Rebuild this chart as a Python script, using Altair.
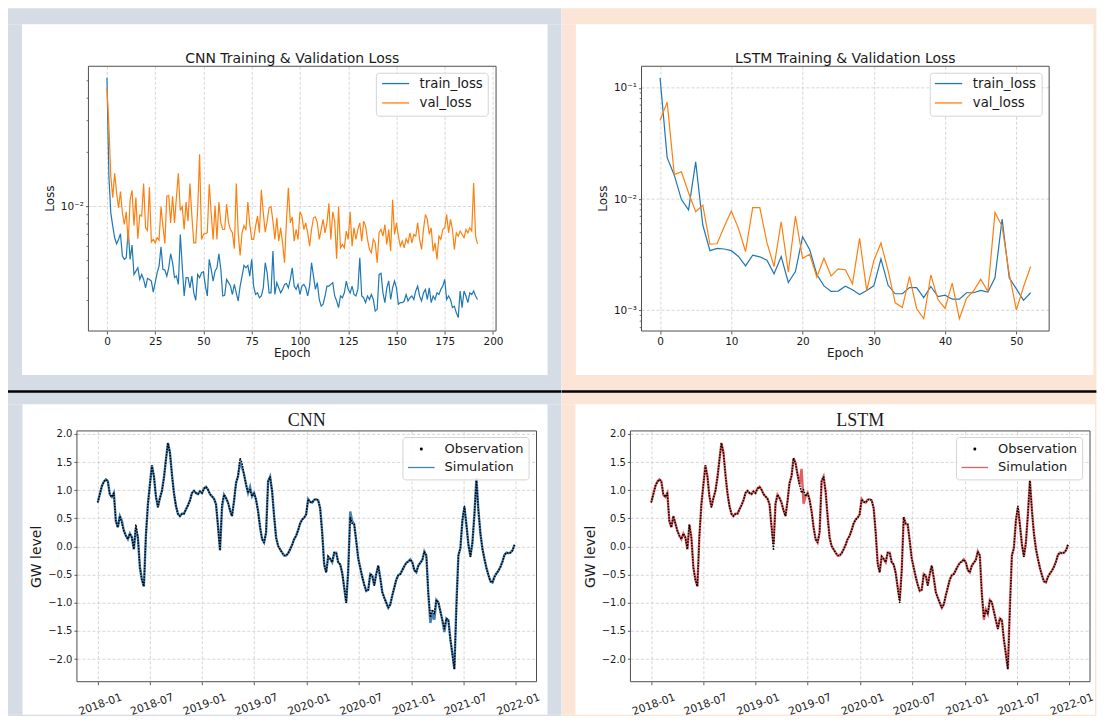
import altair as alt
import pandas as pd

# ---------------- data ----------------
cnn_train_loss = [
    0.0519, 0.0147, 0.00922, 0.00778, 0.0067, 0.0062, 0.00656, 0.00705, 0.0053, 0.00508,
    0.00519, 0.00739, 0.00508, 0.0061, 0.00419, 0.00437, 0.00456, 0.00393, 0.00419, 0.00393,
    0.00353, 0.00398, 0.00393, 0.00385, 0.00334, 0.00377, 0.00428, 0.00466, 0.00597, 0.00447,
    0.00443, 0.0041, 0.00456, 0.00546, 0.00487, 0.00402, 0.0041, 0.00369, 0.00699, 0.00466,
    0.00318, 0.00402, 0.00402, 0.00353, 0.0041, 0.00331, 0.00301, 0.00419, 0.00402, 0.00428,
    0.00434, 0.00361, 0.00318, 0.00508, 0.00447, 0.00385, 0.00437, 0.00456, 0.00546, 0.00447,
    0.00318, 0.00321, 0.00393, 0.00377, 0.00361, 0.00324, 0.00369, 0.00331, 0.00298, 0.00361,
    0.0041, 0.0047, 0.00456, 0.0047, 0.0041, 0.00508, 0.00361, 0.00324, 0.00331, 0.00311,
    0.00318, 0.00353, 0.00487, 0.00428, 0.00331, 0.00331, 0.00565, 0.00324, 0.00377, 0.00353,
    0.00331, 0.00346, 0.00369, 0.00373, 0.00353, 0.00393, 0.00456, 0.00361, 0.00346, 0.00369,
    0.00324, 0.00361, 0.00369, 0.00353, 0.00318, 0.00361, 0.00487, 0.0041, 0.00346, 0.00377,
    0.00304, 0.00279, 0.00286, 0.00318, 0.00361, 0.00361, 0.00369, 0.00377, 0.00318, 0.00298,
    0.00274, 0.00318, 0.00311, 0.00331, 0.00385, 0.00346, 0.00331, 0.00361, 0.00324, 0.00318,
    0.00346, 0.00519, 0.00318, 0.00311, 0.00292, 0.00318, 0.00304, 0.00324, 0.00304, 0.00262,
    0.00268, 0.00419, 0.00425, 0.00331, 0.00292, 0.00353, 0.00385, 0.00304, 0.00353, 0.00385,
    0.00353, 0.00286, 0.00292, 0.00292, 0.00298, 0.00324, 0.00298, 0.00311, 0.00318, 0.00304,
    0.00339, 0.00361, 0.00318, 0.00298, 0.00331, 0.00346, 0.00304, 0.00353, 0.00292, 0.00318,
    0.00304, 0.00331, 0.00324, 0.00346, 0.00361, 0.00393, 0.00304, 0.00318, 0.00304, 0.00274,
    0.00279, 0.00257, 0.00241, 0.00339, 0.00274, 0.00339, 0.00318, 0.00292, 0.00331, 0.00324,
    0.00339, 0.00318, 0.00304,
]
cnn_val_loss = [
    0.0456, 0.0280, 0.0147, 0.0112, 0.0153, 0.0119, 0.00983, 0.0121, 0.00922, 0.00794,
    0.00934, 0.00628, 0.0109, 0.0123, 0.00784, 0.0112, 0.00661, 0.00896, 0.00884, 0.0134,
    0.00761, 0.00736, 0.0128, 0.00634, 0.00656, 0.00628, 0.0067, 0.0065, 0.0100, 0.00778,
    0.00623, 0.0114, 0.0115, 0.00811, 0.0114, 0.00811, 0.0113, 0.0153, 0.0095, 0.0100,
    0.00745, 0.0106, 0.00829, 0.0134, 0.00884, 0.00628, 0.00628, 0.00962, 0.0195, 0.00656,
    0.00699, 0.00708, 0.00714, 0.0133, 0.00922, 0.00656, 0.0101, 0.00656, 0.0106, 0.00811,
    0.00745, 0.00745, 0.0103, 0.00811, 0.00745, 0.00714, 0.00582, 0.0134, 0.00714, 0.00535,
    0.00714, 0.00784, 0.00739, 0.0106, 0.00794, 0.00656, 0.00656, 0.00778, 0.00884, 0.00714,
    0.0124, 0.00922, 0.0072, 0.00829, 0.00983, 0.00996, 0.00829, 0.00656, 0.00865, 0.00642,
    0.00761, 0.00628, 0.00487, 0.00829, 0.0127, 0.00811, 0.00876, 0.00642, 0.00745, 0.00656,
    0.00934, 0.00884, 0.00745, 0.00811, 0.00714, 0.00602, 0.00745, 0.00865, 0.00876, 0.00811,
    0.00656, 0.00745, 0.00847, 0.00714, 0.00811, 0.0104, 0.00656, 0.00934, 0.00829, 0.00512,
    0.0100, 0.00589, 0.00615, 0.00589, 0.0073, 0.00656, 0.00934, 0.00602, 0.00761, 0.00656,
    0.00745, 0.00811, 0.00642, 0.00829, 0.00778, 0.00656, 0.00577, 0.00553, 0.00656, 0.00628,
    0.00487, 0.00714, 0.00745, 0.00684, 0.00794, 0.00615, 0.00745, 0.00565, 0.0109, 0.00699,
    0.00811, 0.00684, 0.00602, 0.00642, 0.00589, 0.00661, 0.00628, 0.00714, 0.00628, 0.00699,
    0.00684, 0.00811, 0.00656, 0.00577, 0.00745, 0.00903, 0.00847, 0.00699, 0.00761, 0.00565,
    0.00628, 0.00508, 0.00684, 0.00656, 0.00745, 0.00761, 0.00903, 0.00714, 0.00847, 0.00745,
    0.00577, 0.00714, 0.00684, 0.0073, 0.00699, 0.0067, 0.00745, 0.00714, 0.00761, 0.0073,
    0.0135, 0.00684, 0.0062,
]
lstm_train_loss = [
    0.123, 0.0236, 0.0164, 0.0099, 0.0080, 0.0216, 0.00585, 0.00344, 0.00361, 0.00356,
    0.00344, 0.00305, 0.00251, 0.00313, 0.00303, 0.00283, 0.00213, 0.00305, 0.00178, 0.00223,
    0.0046, 0.0035, 0.0021, 0.00166, 0.00148, 0.00149, 0.00165, 0.00153, 0.00139, 0.00151,
    0.00166, 0.0029, 0.00168, 0.00141, 0.00141, 0.0016, 0.0016, 0.0013, 0.00164, 0.00133,
    0.00137, 0.00126, 0.00126, 0.00144, 0.00144, 0.00151, 0.00146, 0.00196, 0.00662, 0.00196,
    0.00156, 0.00123, 0.00144,
]
lstm_val_loss = [
    0.0509, 0.0744, 0.0166, 0.0176, 0.0114, 0.0077, 0.0088, 0.00393, 0.00397, 0.00565,
    0.0078, 0.00546, 0.00338, 0.0084, 0.0084, 0.00406, 0.00248, 0.00626, 0.0022, 0.00705,
    0.00294, 0.00319, 0.00199, 0.00294, 0.00204, 0.00236, 0.00232, 0.00173, 0.00444, 0.00151,
    0.0028, 0.00403, 0.00228, 0.00117, 0.00106, 0.00201, 0.00104, 0.00084, 0.00208, 0.00125,
    0.00104, 0.00176, 0.00084, 0.00128, 0.0015, 0.00191, 0.00148, 0.0076, 0.00569, 0.00213,
    0.00101, 0.00162, 0.00248,
]

gw_start = "2018-01-01"
gw_step = "7D"
gw_observation = [
    0.79, 0.93, 1.07, 1.15, 1.19, 1.16, 0.92, 0.88, 0.95, 0.45,
    0.34, 0.54, 0.41, 0.28, 0.19, 0.13, 0.23, 0.16, -0.05, 0.39,
    0.16, -0.37, -0.59, -0.71, 0.19, 0.75, 1.10, 1.44, 1.25, 0.89,
    0.70, 0.86, 0.99, 1.22, 1.54, 1.84, 1.67, 1.28, 0.95, 0.72,
    0.58, 0.54, 0.58, 0.58, 0.66, 0.73, 0.82, 0.95, 0.99, 0.95,
    0.93, 0.98, 0.95, 1.03, 1.06, 1.01, 0.93, 0.89, 0.85, 0.75,
    0.36, -0.07, 0.76, 0.92, 0.86, 0.78, 0.64, 0.54, 0.81, 1.13,
    1.25, 1.57, 1.48, 1.28, 1.10, 0.95, 1.01, 0.89, 0.95, 0.83,
    0.63, 0.34, 0.13, 0.07, 0.25, 1.16, 1.24, 0.98, 0.54, 0.16,
    0.01, -0.05, -0.11, -0.16, -0.16, -0.12, -0.05, 0.03, 0.13, 0.19,
    0.29, 0.41, 0.48, 0.51, 0.57, 0.84, 0.79, 0.78, 0.83, 0.84,
    0.82, 0.68, 0.25, -0.32, -0.46, -0.18, -0.22, -0.28, -0.11, -0.11,
    -0.28, -0.32, -0.47, -0.73, -1.00, -0.43, 0.52, 0.40, 0.39, 0.10,
    -0.21, -0.38, -0.54, -0.68, -0.79, -0.77, -0.49, -0.52, -0.69, -0.49,
    -0.34, -0.56, -0.81, -0.91, -1.00, -1.09, -1.03, -0.87, -0.73, -0.59,
    -0.51, -0.49, -0.42, -0.35, -0.29, -0.27, -0.23, -0.28, -0.42, -0.46,
    -0.34, -0.29, -0.24, -0.09, -0.16, -0.84, -1.26, -1.12, -1.20, -0.95,
    -0.99, -1.15, -1.31, -1.46, -1.28, -1.31, -1.65, -1.91, -2.18, -1.13,
    -0.16, -0.03, 0.46, 0.72, 0.39, 0.04, -0.18, 0.07, 0.57, 1.17,
    0.64, 0.23, -0.04, -0.22, -0.38, -0.51, -0.62, -0.64, -0.54, -0.48,
    -0.43, -0.36, -0.27, -0.15, -0.11, -0.12, -0.11, -0.07, 0.03,
]
# weeks where the simulated curve visibly departs from the observations
cnn_sim_departures = {12: 0.46, 19: 0.33, 62: 0.68, 71: 1.50, 72: 1.40, 76: 1.06,
                      126: 0.62, 127: 0.45, 166: -1.36, 167: -1.20, 168: -1.30,
                      173: -1.52, 179: -1.02, 183: 0.70, 189: 1.22}
lstm_sim_departures = {61: 0.04, 75: 1.38, 76: 0.76, 113: -0.28, 124: -0.95,
                       166: -1.30, 179: -1.05, 183: 0.69}

cnn_epoch_ticks = [0, 25, 50, 75, 100, 125, 150, 175, 200]
lstm_epoch_ticks = [0, 10, 20, 30, 40, 50]
cnn_loss_ticks = [0.01]
lstm_loss_ticks = [0.001, 0.01, 0.1]
cnn_loss_minor = [0.003, 0.004, 0.005, 0.006, 0.007, 0.008, 0.009, 0.02, 0.03, 0.04, 0.05]
lstm_loss_minor = [0.0007, 0.0008, 0.0009, 0.002, 0.003, 0.004, 0.005, 0.006, 0.007,
                   0.008, 0.009, 0.02, 0.03, 0.04, 0.05, 0.06, 0.07, 0.08, 0.09]
gw_level_ticks = [-2.0, -1.5, -1.0, -0.5, 0.0, 0.5, 1.0, 1.5, 2.0]
date_ticks = ["2018-01-01", "2018-07-01", "2019-01-01", "2019-07-01", "2020-01-01",
              "2020-07-01", "2021-01-01", "2021-07-01", "2022-01-01"]

# ---------------- styling ----------------
FONT = "DejaVu Sans"
SERIF = "Liberation Serif"
TXT = "#1a1a1a"
GRID = "#cccccc"
BLUE = "#1f77b4"
ORANGE = "#ff7f0e"
GRAYBG = "#D6DCE5"
PEACH = "#FBE5D6"
ONE = pd.DataFrame({"k": [0]})

LOGEXPR = ("round(log(datum.value)/LN10) == -1 ? '10\u207b\u00b9' : "
           "round(log(datum.value)/LN10) == -2 ? '10\u207b\u00b2' : '10\u207b\u00b3'")

AX = dict(gridColor=GRID, gridDash=[3, 2], gridWidth=0.8,
          domain=False, tickSize=3, tickWidth=0.8, tickColor="#333333",
          labelColor=TXT, labelFont=FONT, titleFont=FONT, titleColor=TXT,
          titleFontWeight="normal", labelFlush=False, labelOverlap=False)


def rect(x1, x2, y1, y2, **mk):
    return alt.Chart(ONE).mark_rect(**mk).encode(
        x=alt.value(x1), x2=alt.value(x2), y=alt.value(y1), y2=alt.value(y2))


def hline(x1, x2, y, color, width):
    return alt.Chart(ONE).mark_rule(color=color, strokeWidth=width).encode(
        x=alt.value(x1), x2=alt.value(x2), y=alt.value(y))


def label(x, y, text, **mk):
    return alt.Chart(ONE).mark_text(text=text, **mk).encode(x=alt.value(x), y=alt.value(y))


def surround(bg, bgb, wb):
    """coloured border around the white panel (the white comes from the chart background)"""
    bx1, bx2, by1, by2 = bgb
    wx1, wx2, wy1, wy2 = wb
    return [
        rect(bx1, bx2, by1, wy1, fill=bg),
        rect(bx1, bx2, wy2, by2, fill=bg),
        rect(bx1, wx1, wy1, wy2, fill=bg),
        rect(wx2, bx2, wy1, wy2, fill=bg),
    ]


def loss_panel(train, val, domx, domy, xticks, yticks, minor, title, bg, bgb, wb, s, leg):
    # the plot box starts s px right of the view origin so that panels in one
    # column share their origin
    W, H = 408, 265
    xs = alt.Scale(domain=domx, range=[s, s + W], nice=False, zero=False)
    ys = alt.Scale(type="log", domain=domy, nice=False)
    tr = pd.DataFrame({"epoch": list(range(len(train))), "loss": train})
    va = pd.DataFrame({"epoch": list(range(len(val))), "loss": val})
    mn = pd.DataFrame({"m": minor})
    yg = pd.DataFrame({"g": yticks})
    xax = alt.Axis(values=xticks, title=None, format="d", labelFontSize=10.5, grid=True,
                   labelPadding=2, **AX)
    yax = alt.Axis(values=yticks, title=None, labelExpr=LOGEXPR, labelFontSize=10.5,
                   grid=False, labelPadding=2, offset=-s, **AX)
    lx1, lx2, ly1, ly2, sx1, sx2, tx = leg
    layers = surround(bg, bgb, wb) + [
        alt.Chart(yg).mark_rule(color=GRID, strokeWidth=0.8, strokeDash=[3, 2]).encode(
            y=alt.Y("g:Q", scale=ys, axis=yax), x=alt.value(s), x2=alt.value(s + W)),
        alt.Chart(tr).mark_line(color=BLUE, strokeWidth=1.2).encode(
            x=alt.X("epoch:Q", scale=xs, axis=xax), y=alt.Y("loss:Q", scale=ys, axis=yax)),
        alt.Chart(va).mark_line(color=ORANGE, strokeWidth=1.2).encode(
            x=alt.X("epoch:Q", scale=xs, axis=xax), y=alt.Y("loss:Q", scale=ys, axis=yax)),
        alt.Chart(mn).mark_rule(color="#333333", strokeWidth=0.7).encode(
            y=alt.Y("m:Q", scale=ys, axis=yax), x=alt.value(s - 1.8), x2=alt.value(s)),
        rect(s, s + W, 0, H, fill="white", fillOpacity=0, stroke="#4d4d4d", strokeWidth=1),
        rect(s + lx1, s + lx2, ly1, ly2, fill="white", fillOpacity=0.85, stroke="#d4d4d4",
             strokeWidth=1, cornerRadius=3),
        hline(s + sx1, s + sx2, 17.3, BLUE, 1.3),
        hline(s + sx1, s + sx2, 36.7, ORANGE, 1.3),
        label(s + tx, 17.3, "train_loss", font=FONT, fontSize=13.3, color=TXT,
              align="left", baseline="middle"),
        label(s + tx, 36.7, "val_loss", font=FONT, fontSize=13.3, color=TXT,
              align="left", baseline="middle"),
        label(s + W / 2, -3.6, title, font=FONT, fontSize=14, color=TXT,
              align="center", baseline="alphabetic"),
        label(s + W / 2, 287, "Epoch", font=FONT, fontSize=12, color=TXT,
              align="center", baseline="middle"),
        label(-27, H / 2, "Loss", font=FONT, fontSize=12, color=TXT, angle=270,
              align="center", baseline="middle"),
    ]
    return alt.layer(*layers).properties(width=W + s, height=H)


def gw_panel(obs, departures, sim_color, title, bg, bgb, wb):
    W, H = 460, 251
    dates = pd.date_range(gw_start, periods=len(obs), freq=gw_step)
    sim = list(obs)
    for i, v in departures.items():
        if i < len(sim):
            sim[i] = v
    dfo = pd.DataFrame({"date": dates, "level": obs})
    dfs = pd.DataFrame({"date": dates, "level": sim})
    xs = alt.Scale(domain=[alt.DateTime(year=2017, month=10, date=20),
                           alt.DateTime(year=2022, month=3, date=14)], nice=False)
    ys = alt.Scale(domain=[-2.4025, 2.0525], nice=False, zero=False)
    tvals = [pd.Timestamp(d) for d in date_ticks]
    xax = alt.Axis(values=[alt.DateTime(year=t.year, month=t.month, date=t.day) for t in tvals],
                   format="%Y-%m", labelAngle=340, labelAlign="center", labelBaseline="top",
                   labelPadding=14, labelFontSize=10.8, title=None, grid=True, **AX)
    yax = alt.Axis(values=gw_level_ticks, format=".1f", title="GW level", titleFontSize=14,
                   labelFontSize=10, labelPadding=2, titlePadding=4, grid=True, **AX)
    bx1, bx2, by1, by2 = bgb
    layers = surround(bg, bgb, wb) + [
        rect(bx1, bx2, by1, by1 + 2.5, fill="#000000"),
        alt.Chart(dfs).mark_line(color=sim_color, strokeWidth=2.4).encode(
            x=alt.X("date:T", scale=xs, axis=xax), y=alt.Y("level:Q", scale=ys, axis=yax)),
        alt.Chart(dfo).mark_line(color="black", strokeWidth=1.7, strokeDash=[0.1, 2.7],
                                 strokeCap="round").encode(
            x=alt.X("date:T", scale=xs, axis=xax), y=alt.Y("level:Q", scale=ys, axis=yax)),
        rect(0, W, 0, H, fill="white", fillOpacity=0, stroke="#4d4d4d", strokeWidth=1),
        rect(326.3, 452.6, 6.6, 49, fill="white", fillOpacity=0.85, stroke="#d4d4d4",
             strokeWidth=1, cornerRadius=3),
        alt.Chart(ONE).mark_circle(color="black", size=9, opacity=1).encode(
            x=alt.value(344.7), y=alt.value(18)),
        hline(331.3, 358, 36.6, sim_color, 1.3),
        label(368, 18, "Observation", font=FONT, fontSize=13, color=TXT,
              align="left", baseline="middle"),
        label(368, 36.6, "Simulation", font=FONT, fontSize=13, color=TXT,
              align="left", baseline="middle"),
        label(W / 2, -4.7, title, font=SERIF, fontSize=18, color=TXT,
              align="center", baseline="alphabetic"),
    ]
    return alt.layer(*layers).properties(width=W, height=H)


# every panel in a column has the same left/right extent around its origin
tl = loss_panel(cnn_train_loss, cnn_val_loss, [-9.6, 201.6], [0.00203, 0.0602],
                cnn_epoch_ticks, cnn_loss_ticks, cnn_loss_minor,
                "CNN Training & Validation Loss", GRAYBG,
                (-69, 485, -58, 324), (-55, 471, -42, 309), 11.5,
                (288.2, 400.2, 7, 50, 294, 321, 331.5))
tr = loss_panel(lstm_train_loss, lstm_val_loss, [-2.6, 54.6], [0.000652, 0.1563],
                lstm_epoch_ticks, lstm_loss_ticks, lstm_loss_minor,
                "LSTM Training & Validation Loss", PEACH,
                (-68.6, 466.4, -58, 324), (-54.6, 463.4, -42, 309), 11.1,
                (289, 401, 7, 50, 293.6, 321, 331.6))
bl = gw_panel(gw_observation, cnn_sim_departures, "#4682b4", "CNN", GRAYBG,
              (-69, 485, -40.7, 285.3), (-54.5, 471, -26.7, 284.0))
br = gw_panel(gw_observation, lstm_sim_departures, "#e06060", "LSTM", PEACH,
              (-68.6, 466.4, -40.7, 285.3), (-55, 465, -26.7, 284.0))

chart = alt.concat(tl, tr, bl, br, columns=2, spacing=0).properties(
    align="each", bounds="full", padding=0, background="white"
).configure_view(strokeWidth=0)

chart.save("out.html", embed_options={"renderer": "svg", "actions": False})
